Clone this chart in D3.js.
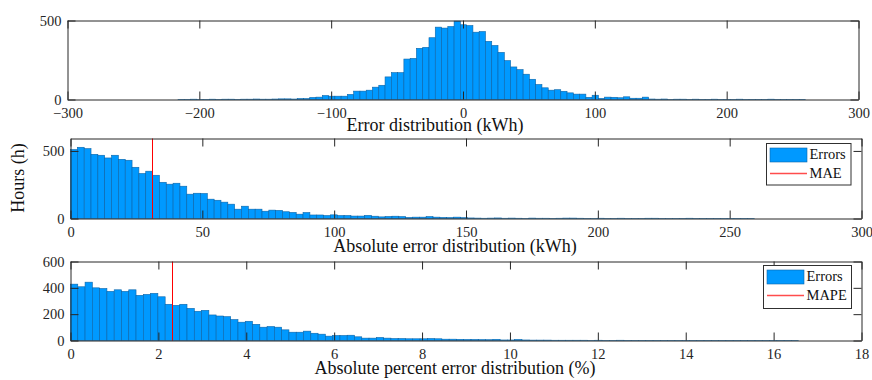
<!DOCTYPE html>
<html>
<head>
<meta charset="utf-8">
<script src="https://cdn.jsdelivr.net/npm/d3@7"></script>
<style>
  html, body { margin: 0; padding: 0; background: #fff; }
  svg { display: block; }
  text { font-family: "Liberation Serif", "Times New Roman", serif; }
</style>
</head>
<body>
<svg id="chart" width="872" height="380"></svg>
<script>
// ---------------- DATA ----------------
// Panel 1: error distribution (kWh), 100 bins
const errorBinStart = -216.2;
const errorBinWidth = 4.76;
const errorCounts = [
  1,1,2,1,1,2,1,2,2,1,2,2,3,2,2,3,
  4,4,3,6,6,13,15,25,21,21,21,32,53,53,59,78,90,143,170,170,256,260,324,330,
  391,458,452,462,496,473,468,426,430,368,342,298,246,206,189,160,128,95,74,59,
  62,52,42,34,34,14,27,7,15,14,11,17,8,8,15,
  3,2,3,1,2,2,1,2,1,1,2,1,1,1,2,1,1,1,1,2,1,1,1,1,1
];
const errorTicks = [-300, -200, -100, 0, 100, 200, 300];
const errorYTicks = [0, 500];

// Panel 2: absolute error distribution (kWh), 100 bins
const absBinStart = 0;
const absBinWidth = 2.594;
const absCounts = [
  510,527,517,475,468,448,468,438,431,379,333,350,320,268,254,261,239,180,187,185,
  143,135,121,106,69,91,69,69,54,62,
  60,50,45,32,44,26,26,22,27,22,22,18,18,23,17,12,15,17,14,8,10,10,14,10,8,7,10,6,4,3,
  2,3,4,2,3,2,1,3,2,2,1,2,3,3,2,1,1,2,1,1,2,1,1,1,2,2,1,1,1,1,2,1,1,1,1,1,1,1,1,1
];
const absTicks = [0, 50, 100, 150, 200, 250, 300];
const absYTicks = [0, 500];
const MAE = 30.8;

// Panel 3: absolute percent error distribution (%), 100 bins
const pctBinStart = 0;
const pctBinWidth = 0.1657;
const pctCounts = [
  428,408,443,400,395,373,385,373,385,343,350,358,332,275,267,275,244,222,229,194,
  186,181,159,139,146,123,101,106,101,81,63,63,71,55,48,33,38,38,40,28,
  18,18,23,18,15,15,13,13,13,15,13,
  10,10,9,8,8,7,6,9,4,4,8,4,3,3,3,2,2,2,2,2,1,2,1,1,2,1,1,1,1,1,1,1,1,1,1,1,1,1,1,1,1,1,1,1,1,1,1,1,1
];
const pctTicks = [0, 2, 4, 6, 8, 10, 12, 14, 16, 18];
const pctYTicks = [0, 200, 400, 600];
const MAPE = 2.3;

const yLabel = "Hours (h)";
const legendLabels = ["Errors", "MAE", "MAPE"];

// ---------------- DRAW ----------------
const svg = d3.select("#chart");
svg.append("rect").attr("width", 872).attr("height", 380).attr("fill", "#fff");

const AXIS = "#262626";
const FACE = "#0099ff";
const EDGE = "#0b64a8";

function panel(cfg) {
  const x = d3.scaleLinear().domain(cfg.xDomain).range([cfg.left, cfg.right]);
  const y = d3.scaleLinear().domain(cfg.yDomain).range([cfg.bottom, cfg.top]);
  const g = svg.append("g");

  // bars
  g.append("g").selectAll("rect").data(cfg.counts).join("rect")
    .attr("x", (d, i) => x(cfg.binStart + i * cfg.binWidth))
    .attr("width", x(cfg.binStart + cfg.binWidth) - x(cfg.binStart))
    .attr("y", d => y(d))
    .attr("height", d => y(0) - y(d))
    .attr("fill", FACE)
    .attr("stroke", EDGE)
    .attr("stroke-width", 0.6);

  // reference line
  if (cfg.refValue !== undefined) {
    const rx = Math.round(x(cfg.refValue)) + 0.5;
    g.append("line")
      .attr("x1", rx).attr("x2", rx)
      .attr("y1", cfg.top).attr("y2", cfg.bottom)
      .attr("stroke", "#ff0000").attr("stroke-width", 1);
  }

  const tk = 8;
  const axB = g.append("g").attr("transform", `translate(0,${cfg.bottom})`)
    .call(d3.axisBottom(x).tickValues(cfg.xTicks).tickSizeInner(-tk).tickSizeOuter(0).tickPadding(8));
  const axT = g.append("g").attr("transform", `translate(0,${cfg.top})`)
    .call(d3.axisTop(x).tickValues(cfg.xTicks).tickSizeInner(-tk).tickSizeOuter(0).tickFormat(""));
  const axL = g.append("g").attr("transform", `translate(${cfg.left},0)`)
    .call(d3.axisLeft(y).tickValues(cfg.yTicks).tickSizeInner(-tk).tickSizeOuter(0).tickPadding(6));
  const axR = g.append("g").attr("transform", `translate(${cfg.right},0)`)
    .call(d3.axisRight(y).tickValues(cfg.yTicks).tickSizeInner(-tk).tickSizeOuter(0).tickFormat(""));

  [axB, axT, axL, axR].forEach(a => {
    a.select(".domain").attr("stroke", AXIS).attr("stroke-width", 1);
    a.selectAll(".tick line").attr("stroke", AXIS).attr("stroke-width", 1);
    a.selectAll("text")
      .attr("fill", AXIS)
      .style("font-family", '"Liberation Serif", serif')
      .style("font-size", "14.5px");
  });

  // x title
  g.append("text")
    .attr("x", cfg.titleX).attr("y", cfg.titleY)
    .attr("text-anchor", "middle")
    .attr("fill", "#111")
    .style("font-size", "18px")
    .text(cfg.title);

  // legend
  if (cfg.legend) {
    const L = cfg.legend;
    const lg = g.append("g");
    lg.append("rect").attr("x", L.x).attr("y", L.y).attr("width", L.w).attr("height", L.h)
      .attr("fill", "#fff").attr("stroke", "#303030").attr("stroke-width", 1);
    lg.append("rect").attr("x", L.x + 3.5).attr("y", L.y + 4.5).attr("width", 37).attr("height", 14)
      .attr("fill", FACE).attr("stroke", EDGE).attr("stroke-width", 0.6);
    lg.append("text").attr("x", L.x + 43).attr("y", L.y + 15.5).attr("fill", "#111")
      .style("font-size", "14.5px").text(legendLabels[0]);
    lg.append("line").attr("x1", L.x + 3.5).attr("x2", L.x + 40.5)
      .attr("y1", L.y + 30).attr("y2", L.y + 30)
      .attr("stroke", "#ff4d4d").attr("stroke-width", 1.5);
    lg.append("text").attr("x", L.x + 43).attr("y", L.y + 34).attr("fill", "#111")
      .style("font-size", "14.5px").text(L.label);
  }
  return { x, y };
}

panel({
  left: 67.5, right: 858.5, top: 20.5, bottom: 99.5,
  xDomain: [-300, 300], yDomain: [0, 500],
  counts: errorCounts, binStart: errorBinStart, binWidth: errorBinWidth,
  xTicks: errorTicks, yTicks: errorYTicks,
  title: "Error distribution (kWh)", titleX: 435, titleY: 130.5
});

panel({
  left: 70.5, right: 861.5, top: 138.5, bottom: 218.5,
  xDomain: [0, 300], yDomain: [0, 592],
  counts: absCounts, binStart: absBinStart, binWidth: absBinWidth,
  xTicks: absTicks, yTicks: absYTicks, refValue: MAE,
  title: "Absolute error distribution (kWh)", titleX: 455, titleY: 251.5,
  legend: { x: 766.5, y: 143.5, w: 84.5, h: 41.5, label: legendLabels[1] }
});

panel({
  left: 70.5, right: 861.5, top: 261.5, bottom: 340.5,
  xDomain: [0, 18], yDomain: [0, 600],
  counts: pctCounts, binStart: pctBinStart, binWidth: pctBinWidth,
  xTicks: pctTicks, yTicks: pctYTicks, refValue: MAPE,
  title: "Absolute percent error distribution (%)", titleX: 455, titleY: 374,
  legend: { x: 763.5, y: 265.5, w: 88, h: 43, label: legendLabels[2] }
});

// y label
svg.append("text")
  .attr("transform", "translate(24,178) rotate(-90)")
  .attr("text-anchor", "middle")
  .attr("fill", "#111")
  .style("font-size", "18px")
  .text(yLabel);
</script>
</body>
</html>
